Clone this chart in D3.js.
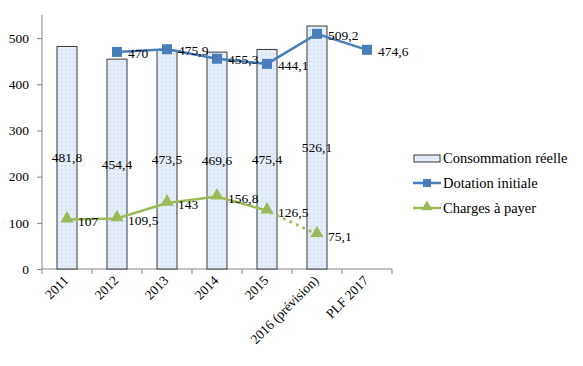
<!DOCTYPE html>
<html><head><meta charset="utf-8">
<script src="https://cdn.jsdelivr.net/npm/d3@7"></script>
<style>body{margin:0;background:#fff}svg{display:block}text{font-family:"Liberation Serif","DejaVu Serif",serif;fill:#000}</style>
</head><body>
<svg id="c" width="583" height="366"></svg>
<script>
const categories = ["2011","2012","2013","2014","2015","2016 (prévision)","PLF 2017"];
const consommation = [481.8,454.4,473.5,469.6,475.4,526.1,null];
const dotation = [null,470,475.9,455.3,444.1,509.2,474.6];
const charges = [107,109.5,143,156.8,126.5,75.1,null];
const yTicks = [0,100,200,300,400,500];
const legendLabels = ["Consommation réelle","Dotation initiale","Charges à payer"];
const fmt = v => String(v).replace(".", ",");

const svg = d3.select("#c");
const pL = 42, pR = 392, pT = 15, pB = 269;
const x = d3.scaleBand().domain(categories).range([pL,pR]).paddingInner(0.6).paddingOuter(0.3);
const y = d3.scaleLinear().domain([0,550]).range([pB,pT]);
const cx = c => x(c) + x.bandwidth()/2;
const FS = 13.5;
const blue = "#4a7ebb", green = "#9bbb59";

// pattern
const defs = svg.append("defs");
const pat = defs.append("pattern").attr("id","dots").attr("width",4).attr("height",4).attr("patternUnits","userSpaceOnUse");
pat.append("rect").attr("width",4).attr("height",4).attr("fill","#e6eff9");
pat.append("rect").attr("x",1).attr("y",1).attr("width",2).attr("height",2).attr("fill","#d5e4f4");

// y axis
const ya = svg.append("g").attr("transform",`translate(${pL},0)`)
  .call(d3.axisLeft(y).tickValues(yTicks).tickSize(5).tickSizeOuter(0).tickFormat(d=>d));
ya.select(".domain").attr("stroke","#868686").attr("d",`M0,${pT}V${pB}`);
ya.selectAll(".tick line").attr("stroke","#868686");
ya.selectAll(".tick text").attr("x",-13).style("font-size",FS+"px").style("font-family",'"Liberation Serif",serif').attr("fill","#000");

// x axis
const step = x.step();
const bounds = categories.map(c => x(c) - (step - x.bandwidth())/2).concat([pR]);
svg.append("line").attr("x1",pL).attr("x2",pR).attr("y1",pB).attr("y2",pB).attr("stroke","#868686");
svg.selectAll(".xt").data(bounds).join("line").attr("x1",d=>d).attr("x2",d=>d).attr("y1",pB).attr("y2",pB+5).attr("stroke","#868686");
svg.selectAll(".xl").data(categories).join("text")
  .attr("transform",c=>`translate(${cx(c)-1},${pB+9}) rotate(-45)`)
  .attr("text-anchor","end").attr("dy","0.35em").style("font-size",FS+"px").text(c=>c);

// bars
const barData = categories.map((c,i)=>({c,v:consommation[i]})).filter(d=>d.v!=null);
svg.selectAll(".bar").data(barData).join("rect")
  .attr("x",d=>x(d.c)).attr("width",x.bandwidth())
  .attr("y",d=>y(d.v)).attr("height",d=>pB-y(d.v))
  .attr("fill","url(#dots)").attr("stroke","#3a3a3a").attr("stroke-width",1);
svg.selectAll(".bl").data(barData).join("text")
  .attr("x",d=>cx(d.c)).attr("y",d=>(y(d.v)+pB)/2).attr("dy","0.35em")
  .attr("text-anchor","middle").style("font-size",FS+"px").text(d=>fmt(d.v));

// dotation line
const dData = categories.map((c,i)=>({c,v:dotation[i]})).filter(d=>d.v!=null);
const line = d3.line().x(d=>cx(d.c)).y(d=>y(d.v));
svg.append("path").datum(dData).attr("d",line).attr("fill","none").attr("stroke",blue).attr("stroke-width",2.5);
svg.selectAll(".dm").data(dData).join("rect")
  .attr("x",d=>cx(d.c)-5).attr("y",d=>y(d.v)-5).attr("width",10).attr("height",10).attr("fill",blue);
svg.selectAll(".dl").data(dData).join("text")
  .attr("x",d=>cx(d.c)+11).attr("y",d=>y(d.v)+1).attr("dy","0.35em").style("font-size",FS+"px").text(d=>fmt(d.v));

// charges line
const cData = categories.map((c,i)=>({c,v:charges[i]})).filter(d=>d.v!=null);
svg.append("path").datum(cData.slice(0,5)).attr("d",line).attr("fill","none").attr("stroke",green).attr("stroke-width",2.5);
svg.append("path").datum(cData.slice(4)).attr("d",line).attr("fill","none").attr("stroke",green).attr("stroke-width",3)
  .attr("stroke-dasharray","0.1 7").attr("stroke-linecap","round").attr("stroke-dashoffset",-5);
const tri = d3.symbol().type(d3.symbolTriangle).size(75);
svg.selectAll(".cm").data(cData).join("path")
  .attr("d",tri).attr("transform",d=>`translate(${cx(d.c)},${y(d.v)-1})`).attr("fill",green);
svg.selectAll(".cl").data(cData).join("text")
  .attr("x",d=>cx(d.c)+11).attr("y",d=>y(d.v)+1.5).attr("dy","0.35em").style("font-size",FS+"px").text(d=>fmt(d.v));

// legend
const lg = svg.append("g");
const ly = [158,183,208];
lg.append("rect").attr("x",414).attr("y",ly[0]-3).attr("width",26).attr("height",7).attr("fill","url(#dots)").attr("stroke","#3a3a3a");
[[1,blue],[2,green]].forEach(([i,col])=>{
  lg.append("line").attr("x1",413).attr("x2",441).attr("y1",ly[i]).attr("y2",ly[i]).attr("stroke",col).attr("stroke-width",2.5);
});
lg.append("rect").attr("x",423).attr("y",ly[1]-4).attr("width",8).attr("height",8).attr("fill",blue);
lg.append("path").attr("d",d3.symbol().type(d3.symbolTriangle).size(55)).attr("transform",`translate(427,${ly[2]-1})`).attr("fill",green);
lg.selectAll(".lt").data(legendLabels).join("text").attr("x",443).attr("y",(d,i)=>ly[i]).attr("dy","0.35em")
  .style("font-size","14.5px").text(d=>d);
</script>
</body></html>
